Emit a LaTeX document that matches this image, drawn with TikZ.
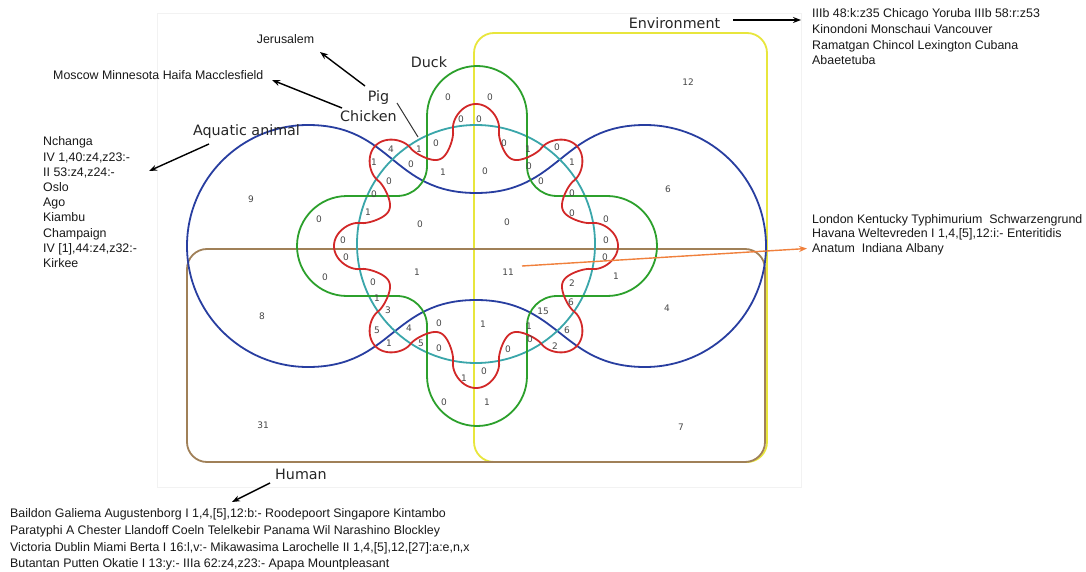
\documentclass[tikz,border=0pt]{standalone}
\usepackage{fontspec}
\setmainfont{Liberation Sans}
\newfontfamily\dejavu{DejaVu Sans}
\usetikzlibrary{arrows.meta}
\definecolor{cblue}{RGB}{40,62,160}
\definecolor{cteal}{RGB}{58,166,170}
\definecolor{cgreen}{RGB}{44,160,44}
\definecolor{cred}{RGB}{210,40,40}
\definecolor{cyel}{RGB}{232,230,60}
\definecolor{cbrown}{RGB}{160,128,88}
\definecolor{corange}{RGB}{240,128,60}
\tikzset{
  setline/.style={line width=1.8pt},
  lbl/.style={font=\dejavu\fontsize{14.3}{16}\selectfont, text=black!85, inner sep=0pt, anchor=base},
  num/.style={font=\dejavu\fontsize{9}{10}\selectfont, text=black!72, inner sep=0pt},
  lst/.style={font=\fontsize{12.4}{15}\selectfont, text=black!90, inner sep=0pt, anchor=base west},
  arr/.style={-{Stealth[length=8pt,width=6pt]}, line width=1.4pt, black},
}
\begin{document}
\begin{tikzpicture}[x=1pt,y=-1pt,
  declare function={cg(\a)=cos(8*\a); wave(\a)=cg(\a)*pow(abs(cg(\a))+0.0001,-0.4); rr(\a)=118+24*wave(\a);}]
\useasboundingbox (0,0) rectangle (1086,572);
\fill[white] (0,0) rectangle (1086,572);
% faint frame of the pasted diagram
\draw[black!5, line width=0.8pt] (157,13) rectangle (801,487);
% Environment (yellow)
\draw[setline, cyel, rounded corners=20pt] (474,33) rectangle (767,462);
% Human (brown)
\draw[setline, cbrown, rounded corners=20pt] (187,249) rectangle (765,462);
% Aquatic animal (blue)
\draw[setline, cblue] (308,125) arc[start angle=-90, end angle=-270, radius=121]
  .. controls (392,367) and (392,300) .. (476,300)
  .. controls (560,300) and (561,367) .. (645,367)
  arc[start angle=90, end angle=-90, radius=121]
  .. controls (561,125) and (560,193) .. (476,193)
  .. controls (392,193) and (392,125) .. (308,125) -- cycle;
% teal circle
\draw[setline, cteal] (476,244) circle[radius=119];
% Duck (green)
\draw[setline, cgreen] (427,166) -- (427,116) arc[start angle=180, end angle=360, radius=50]
  -- (527,166) arc[start angle=180, end angle=90, radius=30]
  -- (607,196) arc[start angle=-90, end angle=90, radius=50]
  -- (557,296) arc[start angle=-90, end angle=-180, radius=30]
  -- (527,376) arc[start angle=0, end angle=180, radius=50]
  -- (427,326) arc[start angle=0, end angle=-90, radius=30]
  -- (347,296) arc[start angle=90, end angle=270, radius=50]
  -- (397,196) arc[start angle=90, end angle=0, radius=30] -- cycle;
% red cog
\draw[setline, cred, line join=round] plot[domain=0:360, samples=721, variable=\t]
  ({476+rr(\t)*cos(\t)}, {246+rr(\t)*sin(\t)}) -- cycle;
% region counts
\foreach \x/\y/\v [count=\i] in {448/97/0, 490/97/0, 461/119/0, 479/119/0, 436/143/0, 391/149/4, 419/149/1, 374/162/1, 411/164/0, 443/172/1, 485/171/0, 504/143/0, 528/149/1, 557/147/0, 529/166/0, 572/162/1, 541/181/0, 389/181/0, 374/194/0, 368/212/1, 572/193/0, 572/213/0, 319/219/0, 420/224/0, 507/222/0, 606/219/0, 343/240/0, 346/257/0, 606/240/0, 605/257/0, 417/272/1, 508/272/11, 325/277/0, 373/282/0, 616/276/1, 572/283/2, 377/298/1, 571/302/6, 388/310/3, 543/311/15, 409/328/4, 377/330/5, 439/323/0, 483/324/1, 529/326/1, 567/330/6, 389/343/1, 421/343/5, 439/348/0, 530/339/0, 555/346/2, 508/349/0, 464/378/1, 484/371/0, 444/402/0, 487/402/1, 251/199/9, 688/82/12, 668/189/6, 262/316/8, 667/308/4, 263/425/31, 681/427/7}
  \node[num] (n\i) at (\x,\y) {\v};
% set labels
\node[lbl] (env) at (674.5,29) {Environment};
\node[lbl] (duck) at (429,68) {Duck};
\node[lbl] (pig) at (378.5,101.5) {Pig};
\node[lbl] (chicken) at (368.5,121.5) {Chicken};
\node[lbl] (aqua) at (246.5,136) {Aquatic animal};
\node[lbl] (human) at (301,479.5) {Human};
% lists
\node[lst, anchor=base] (jer) at (285.5,44) {Jerusalem};
\node[lst] (mos) at (53,80) {Moscow Minnesota Haifa Macclesfield};
\node[lst] (aq1) at (43,146) {Nchanga};
\node[lst] (aq2) at (43,161.2) {IV 1,40:z4,z23:-};
\node[lst] (aq3) at (43,176.4) {II 53:z4,z24:-};
\node[lst] (aq4) at (43,191.6) {Oslo};
\node[lst] (aq5) at (43,206.8) {Ago};
\node[lst] (aq6) at (43,222) {Kiambu};
\node[lst] (aq7) at (43,237.2) {Champaign};
\node[lst] (aq8) at (43,252.4) {IV [1],44:z4,z32:-};
\node[lst] (aq9) at (43,267.6) {Kirkee};
\node[lst] (en1) at (812,18) {IIIb 48:k:z35 Chicago Yoruba IIIb 58:r:z53};
\node[lst] (en2) at (812,33.7) {Kinondoni Monschaui Vancouver};
\node[lst] (en3) at (812,49.4) {Ramatgan Chincol Lexington Cubana};
\node[lst] (en4) at (812,65) {Abaetetuba};
\node[lst] (lo1) at (812,223) {London Kentucky Typhimurium\ \ Schwarzengrund};
\node[lst] (lo2) at (812,237.5) {Havana Weltevreden I 1,4,[5],12:i:- Enteritidis};
\node[lst] (lo3) at (812,252.5) {Anatum\ \ Indiana Albany};
\node[lst] (hu1) at (10,517.5) {Baildon Galiema Augustenborg I 1,4,[5],12:b:- Roodepoort Singapore Kintambo};
\node[lst] (hu2) at (10,534) {Paratyphi A Chester Llandoff Coeln Telelkebir Panama Wil Narashino Blockley};
\node[lst] (hu3) at (10,551) {Victoria Dublin Miami Berta I 16:l,v:- Mikawasima Larochelle II 1,4,[5],12,[27]:a:e,n,x};
\node[lst] (hu4) at (10,567.5) {Butantan Putten Okatie I 13:y:- IIIa 62:z4,z23:- Apapa Mountpleasant};
% connector end points
\coordinate (pigS) at (365,86);   \coordinate (jerE) at (320,52);
\coordinate (chS) at (342,108);   \coordinate (mosE) at (272,80);
\coordinate (aqS) at (209,144);   \coordinate (aqE) at (149,171);
\coordinate (huS) at (270,483);   \coordinate (huE) at (232,502);
\coordinate (enS) at (733,20);    \coordinate (enE) at (801,20);
\coordinate (orS) at (522,266);   \coordinate (orE) at (807,248.5);
\coordinate (pcS) at (397,103);   \coordinate (pcE) at (418,137);
\draw[arr] (pigS) -- (jerE);
\draw[arr] (chS) -- (mosE);
\draw[arr] (aqS) -- (aqE);
\draw[arr] (huS) -- (huE);
\draw[arr] (enS) -- (enE);
\draw[arr, corange] (orS) -- (orE);
\draw[line width=1pt, black!80] (pcS) -- (pcE);
\end{tikzpicture}
\end{document}
